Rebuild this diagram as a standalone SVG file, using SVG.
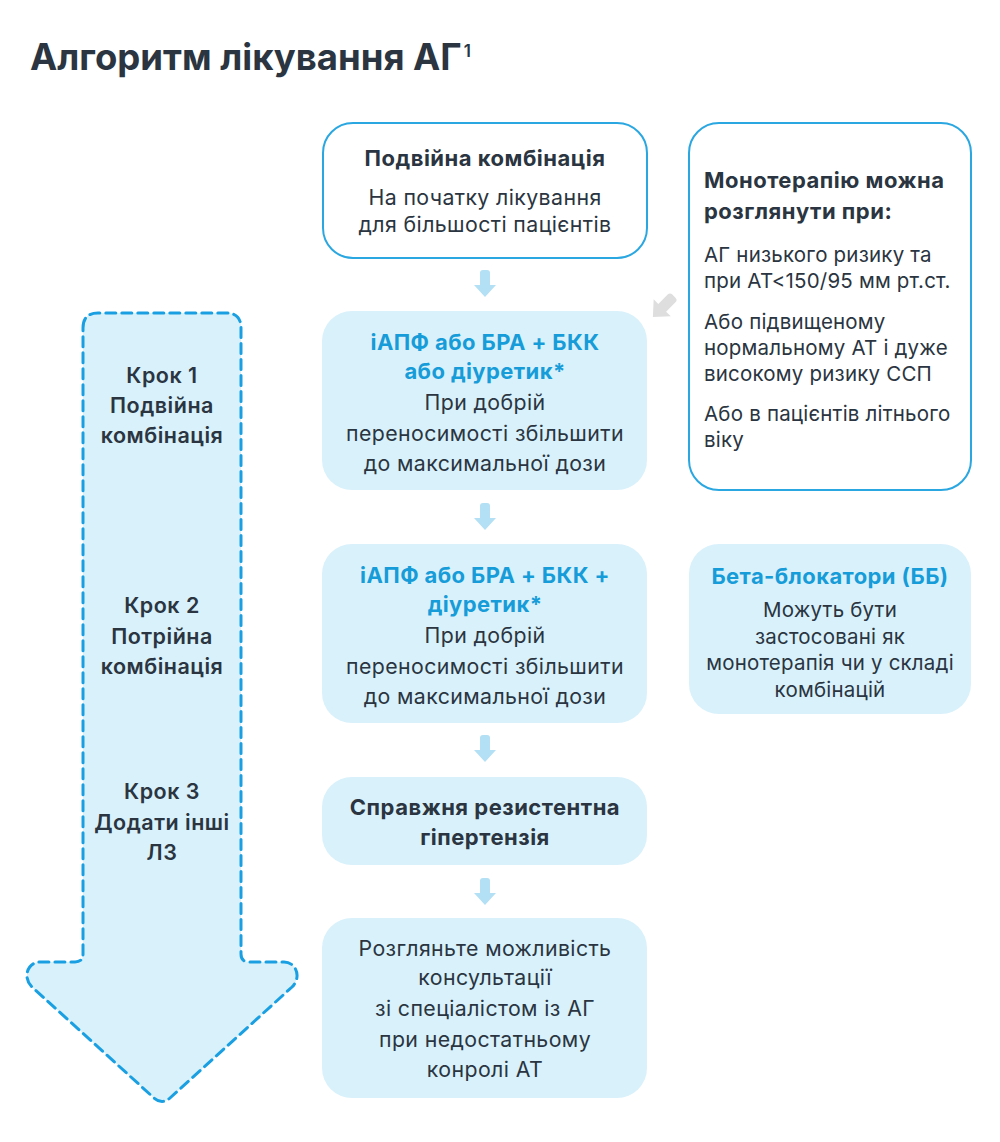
<svg xmlns="http://www.w3.org/2000/svg" width="1000" height="1142" viewBox="0 0 1000 1142">
<defs>
<style>
text{font-family:Inter,"Noto Sans","DejaVu Sans",sans-serif;fill:#2a3541}
.t{font-size:36.5px;font-weight:700}
.h{font-size:22px;font-weight:700;letter-spacing:0.5px}
.hb{font-size:22px;font-weight:700;letter-spacing:0.4px;fill:#169cd8}
.r{font-size:21.3px;font-weight:400;letter-spacing:0.4px}
.rr{font-size:20.5px;font-weight:400;letter-spacing:0.2px}
.s{font-size:21.5px;font-weight:600;letter-spacing:0.5px}
.c{text-anchor:middle}
.wb{fill:#ffffff;stroke:#2aa7e1;stroke-width:2}
.lb{fill:#d9f1fb}
.sa{fill:#b3e0f4}
.ga{fill:#dedede}
</style>
<path id="arr" d="M-5,-11 Q-5,-14 -2,-14 L2,-14 Q5,-14 5,-11 L5,1 L11,1 L0,13 L-11,1 L-5,1 Z"/>
</defs>
<rect width="1000" height="1142" fill="#ffffff"/>
<g id="title">
<text class="t" x="30" y="70">Алгоритм лікування АГ<tspan font-size="17" font-weight="600" dx="2" dy="-13">1</tspan></text>
</g>
<g id="steps-arrow">
<path d="M83,328 Q83,313 98,313 L226,313 Q241,313 241,328 L241,954 Q241,962 249,962 L284,962 C296,962 302,977 292,987 L170,1098 Q162,1105 154,1098 L32,987 C22,977 28,962 40,962 L75,962 Q83,962 83,954 Z" fill="#d9f1fb" stroke="#1aa0e2" stroke-width="3" stroke-dasharray="10 6" stroke-linecap="round"/>
<text class="s c" x="162" y="383">Крок 1</text>
<text class="s c" x="162" y="413">Подвійна</text>
<text class="s c" x="162" y="443">комбінація</text>
<text class="s c" x="162" y="613">Крок 2</text>
<text class="s c" x="162" y="644">Потрійна</text>
<text class="s c" x="162" y="674">комбінація</text>
<text class="s c" x="162" y="799">Крок 3</text>
<text class="s c" x="162" y="830">Додати інші</text>
<text class="s c" x="162" y="860">ЛЗ</text>
</g>
<g id="node-dual">
<rect class="wb" x="323" y="123" width="324" height="135" rx="30"/>
<text class="h c" x="485" y="166">Подвійна комбінація</text>
<text class="r c" x="485" y="205">На початку лікування</text>
<text class="r c" x="485" y="232">для більшості пацієнтів</text>
</g>
<g id="node-mono">
<rect class="wb" x="689" y="123" width="282" height="367" rx="30"/>
<text class="h" x="704" y="188">Монотерапію можна</text>
<text class="h" x="704" y="219">розглянути при:</text>
<text class="rr" x="704" y="262">АГ низького ризику та</text>
<text class="rr" x="704" y="288">при АТ&lt;150/95 мм рт.ст.</text>
<text class="rr" x="704" y="329">Або підвищеному</text>
<text class="rr" x="704" y="355">нормальному АТ і дуже</text>
<text class="rr" x="704" y="381">високому ризику ССП</text>
<text class="rr" x="704" y="421">Або в пацієнтів літнього</text>
<text class="rr" x="704" y="447">віку</text>
</g>
<g id="node-step1">
<rect class="lb" x="322" y="311" width="325" height="179" rx="30"/>
<text class="hb c" x="485" y="350">іАПФ або БРА + БКК</text>
<text class="hb c" x="485" y="379">або діуретик*</text>
<text class="r c" x="485" y="410">При добрій</text>
<text class="r c" x="485" y="441">переносимості збільшити</text>
<text class="r c" x="485" y="471">до максимальної дози</text>
</g>
<g id="node-step2">
<rect class="lb" x="322" y="544" width="325" height="179" rx="30"/>
<text class="hb c" x="485" y="583">іАПФ або БРА + БКК +</text>
<text class="hb c" x="485" y="612">діуретик*</text>
<text class="r c" x="485" y="643">При добрій</text>
<text class="r c" x="485" y="674">переносимості збільшити</text>
<text class="r c" x="485" y="704">до максимальної дози</text>
</g>
<g id="node-bb">
<rect class="lb" x="689" y="544" width="282" height="170" rx="30"/>
<text class="hb c" x="830" y="584">Бета-блокатори (ББ)</text>
<text class="rr c" x="830" y="617">Можуть бути</text>
<text class="rr c" x="830" y="644">застосовані як</text>
<text class="rr c" x="830" y="670">монотерапія чи у складі</text>
<text class="rr c" x="830" y="697">комбінацій</text>
</g>
<g id="node-resistant">
<rect class="lb" x="322" y="777" width="325" height="88" rx="30"/>
<text class="h c" x="485" y="815">Справжня резистентна</text>
<text class="h c" x="485" y="845">гіпертензія</text>
</g>
<g id="node-consult">
<rect class="lb" x="322" y="918" width="325" height="180" rx="30"/>
<text class="r c" x="485" y="956">Розгляньте можливість</text>
<text class="r c" x="485" y="985">консультації</text>
<text class="r c" x="485" y="1016">зі спеціалістом із АГ</text>
<text class="r c" x="485" y="1047">при недостатньому</text>
<text class="r c" x="485" y="1077">конролі АТ</text>
</g>
<g id="connectors">
<use href="#arr" class="sa" x="485" y="284"/>
<use href="#arr" class="sa" x="485" y="517"/>
<use href="#arr" class="sa" x="485" y="749"/>
<use href="#arr" class="sa" x="485" y="892"/>
<use href="#arr" class="ga" transform="translate(663,307) rotate(45) scale(1.1)"/>
</g>
</svg>
